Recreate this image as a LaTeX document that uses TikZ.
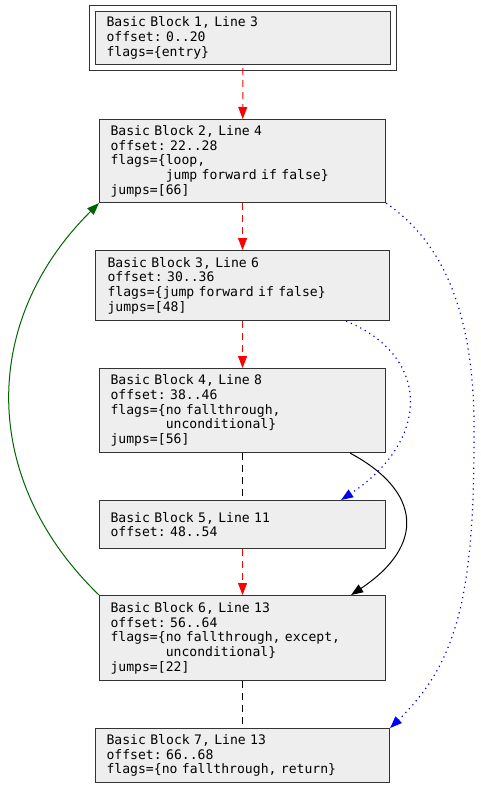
\documentclass[tikz,border=0pt]{standalone}
\usepackage{fontspec}
\setmonofont{DejaVu Sans Mono}
\usetikzlibrary{arrows.meta}
\definecolor{blockfill}{HTML}{EEEEEE}
\definecolor{blockline}{HTML}{333333}
\definecolor{loopgreen}{HTML}{006400}
\newcommand{\flagindent}{\phantom{flags=\{}}

\begin{document}
\frenchspacing
\begin{tikzpicture}[x=1pt,y=-1pt,
    block/.style={rectangle,draw=blockline,fill=blockfill,line width=1.1pt,
      font=\ttfamily\fontsize{13.1}{14.7}\selectfont,align=left,
      inner xsep=11pt,inner ysep=0pt,anchor=north west},
    tip/.style={-{Triangle[length=12pt,width=9pt]}},
    fallthru/.style={tip,red,line width=1pt,dash pattern=on 7pt off 5pt},
    nextblock/.style={black,line width=1pt,dash pattern=on 7pt off 5pt},
    uncond/.style={tip,black,line width=1pt},
    loopback/.style={tip,loopgreen,line width=1pt},
    condjump/.style={tip,blue,line width=1.2pt,dash pattern=on 1.2pt off 4pt}]
    \useasboundingbox (0,0) rectangle (480,788);
    \node[block,double=white,double distance=4.8pt,inner xsep=14pt,
      text width=273pt,minimum height=59pt] (b1) at (92,8)
      {Basic Block 1, Line 3\\offset: 0..20\\flags=\{entry\}};
    \node[block,text width=264pt,minimum height=83pt] (b2) at (99,119)
      {Basic Block 2, Line 4\\offset: 22..28\\flags=\{loop,\\
       \flagindent jump forward if false\}\\jumps=[66]};
    \node[block,inner xsep=12pt,text width=270pt,minimum height=70pt] (b3) at (95,250)
      {Basic Block 3, Line 6\\offset: 30..36\\flags=\{jump forward if false\}\\jumps=[48]};
    \node[block,text width=264pt,minimum height=84pt] (b4) at (99,368)
      {Basic Block 4, Line 8\\offset: 38..46\\flags=\{no fallthrough,\\
       \flagindent unconditional\}\\jumps=[56]};
    \node[block,text width=264pt,minimum height=48pt] (b5) at (99,500)
      {Basic Block 5, Line 11\\offset: 48..54};
    \node[block,text width=264pt,minimum height=85pt] (b6) at (99,595)
      {Basic Block 6, Line 13\\offset: 56..64\\flags=\{no fallthrough, except,\\
       \flagindent unconditional\}\\jumps=[22]};
    \node[block,text width=272pt,minimum height=54pt] (b7) at (95,728)
      {Basic Block 7, Line 13\\offset: 66..68\\flags=\{no fallthrough, return\}};

    \draw[fallthru] (b1) -- (b2);
    \draw[fallthru] (b2) -- (b3);
    \draw[fallthru] (b3) -- (b4);
    \draw[nextblock] (b4) -- (b5);
    \draw[fallthru] (b5) -- (b6);
    \draw[nextblock] (b6) -- (b7);

    \draw[loopback] (b6.north west) .. controls +(-119,-115) and +(-119,118) .. (b2.south west);
    \draw[uncond] ([xshift=-36pt]b4.south east) .. controls +(71,38) and +(75,-50)
      .. ([xshift=-35pt]b6.north east);
    \draw[condjump] ([xshift=-44pt]b3.south east) .. controls +(85,35) and +(90,-60)
      .. ([xshift=-45pt]b5.north east);
    \draw[condjump] (b2.south east) .. controls +(55,38) and +(2,-130) .. (474,440)
      .. controls +(0,160) and +(65,-63) .. (b7.north east);
\end{tikzpicture}
\end{document}
